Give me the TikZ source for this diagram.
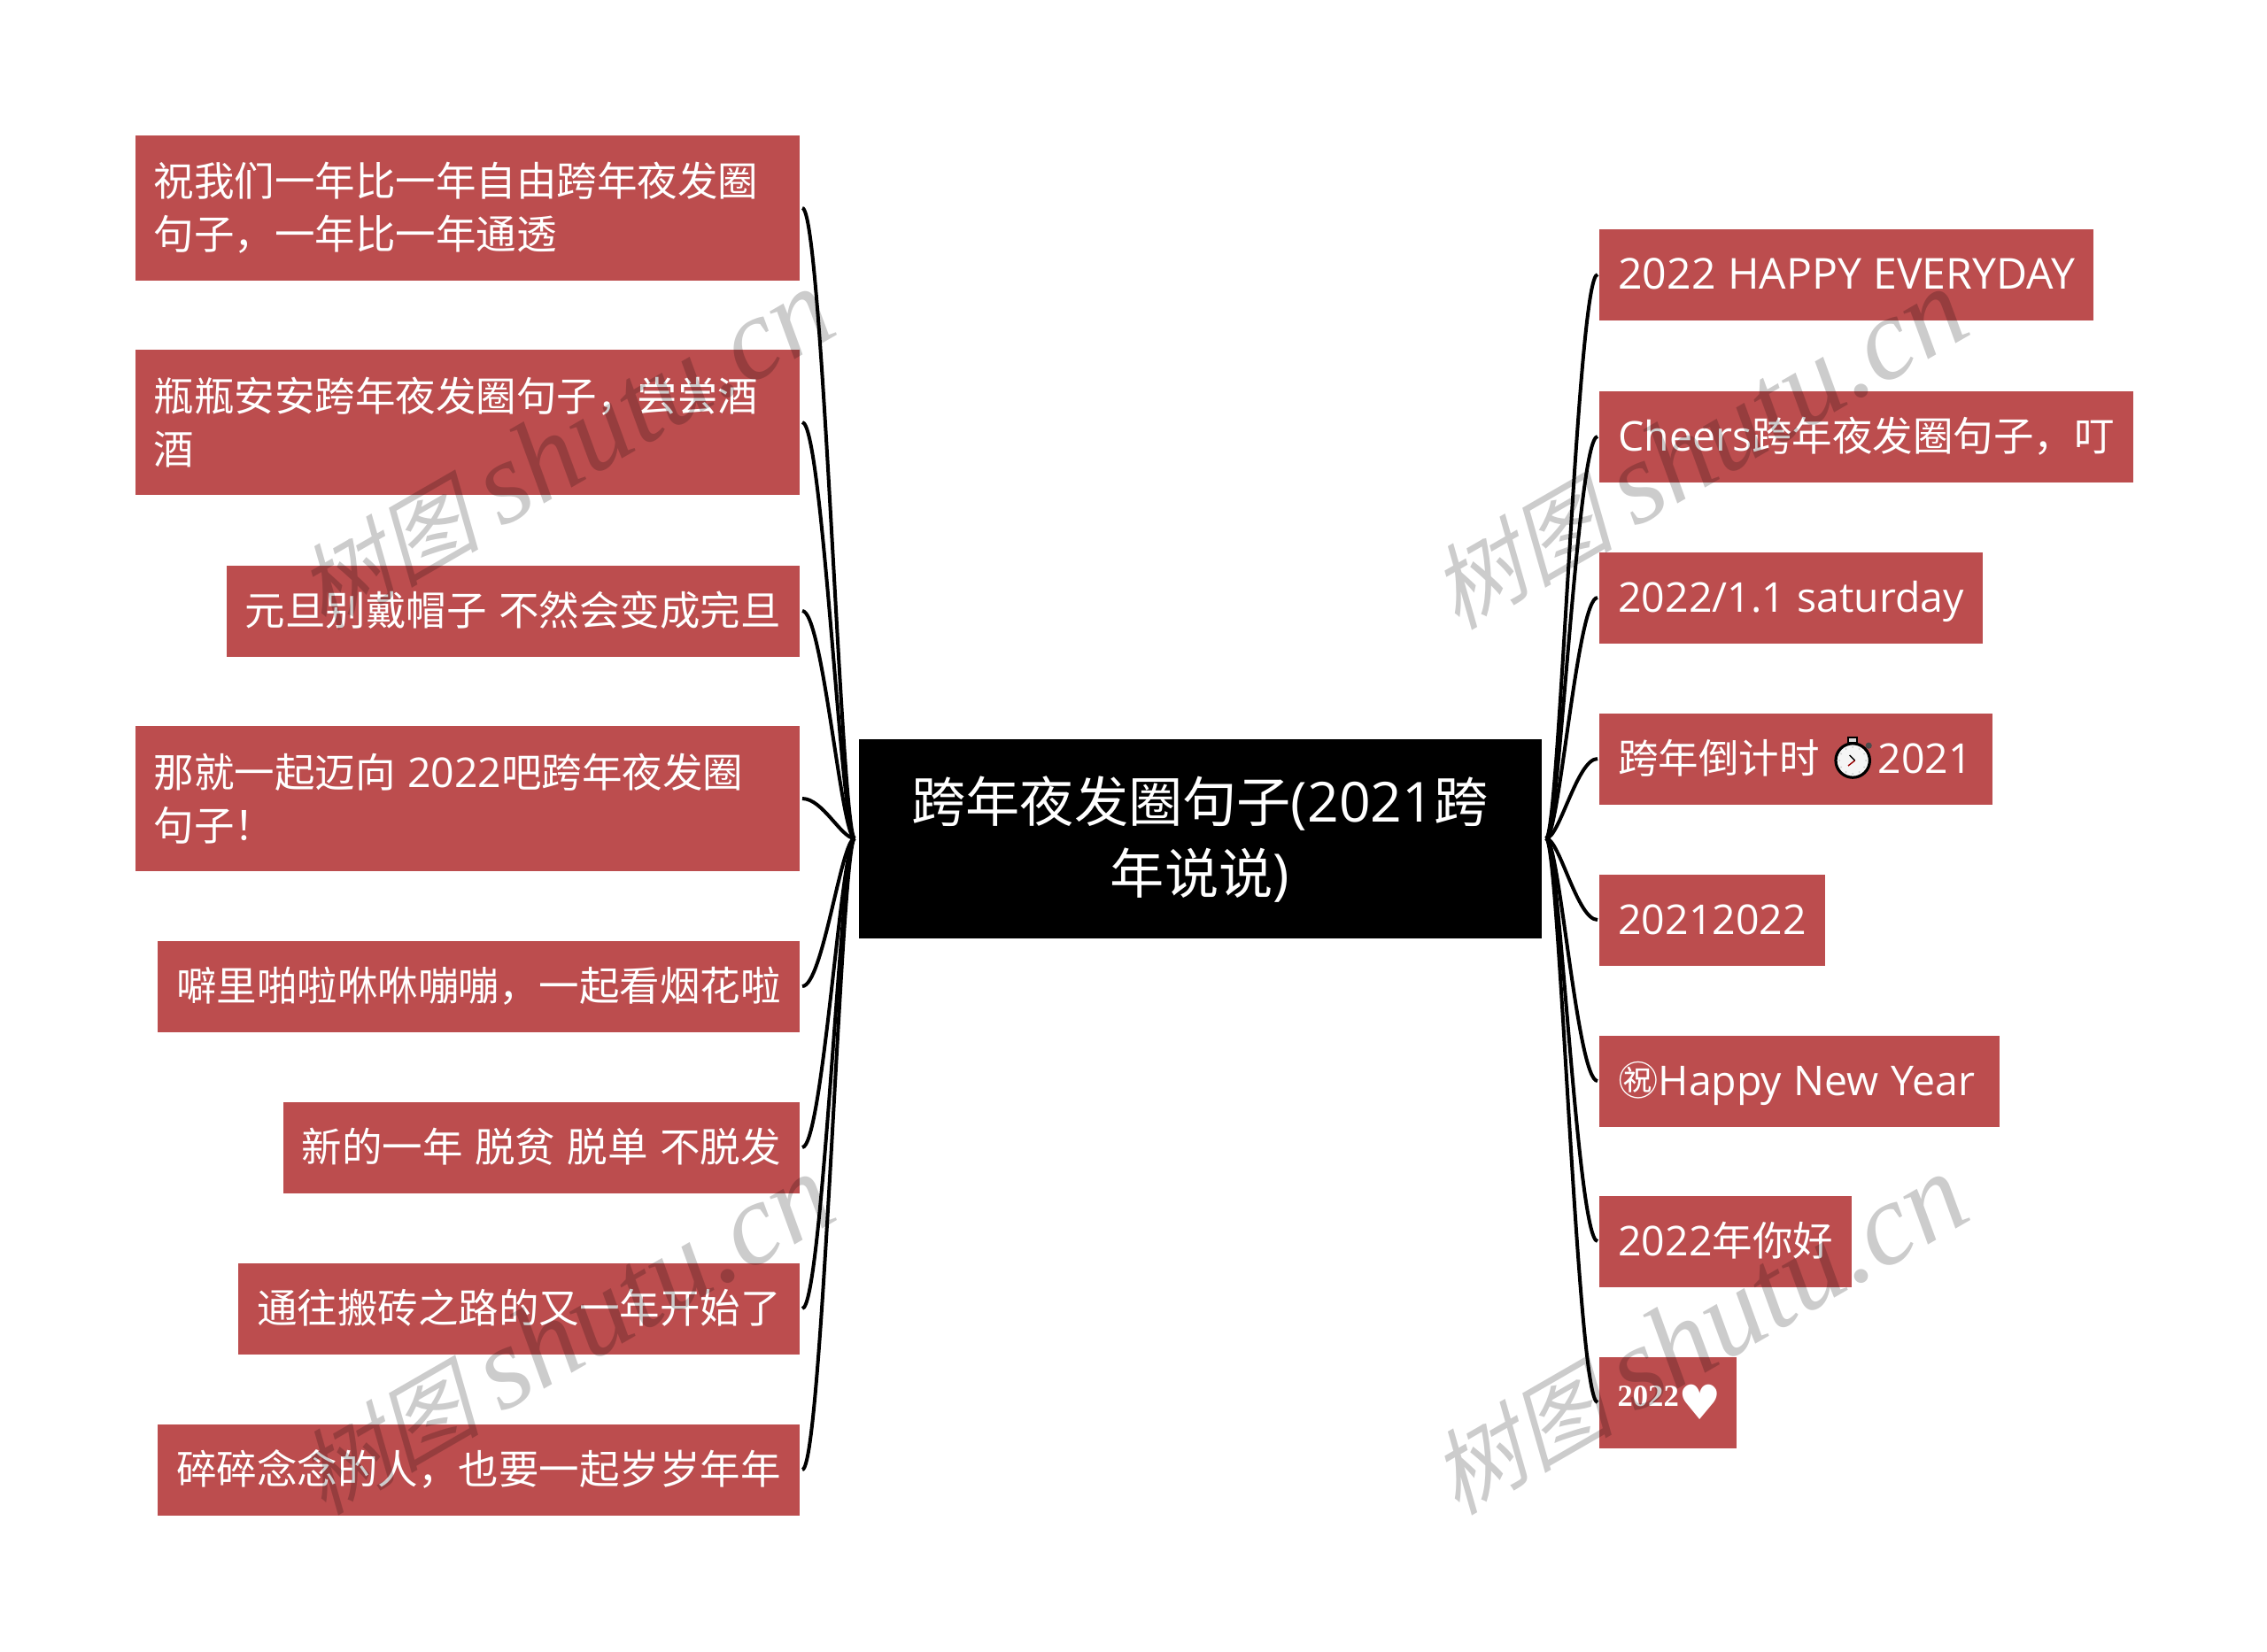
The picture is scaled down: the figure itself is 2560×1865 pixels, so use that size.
\documentclass[tikz,border=0pt]{standalone}
\usepackage{fontspec}
\setmainfont{Noto Sans CJK SC}
\newfontfamily\lat[Scale=1.02]{Open Sans}
\newfontfamily\heartfont{DejaVu Sans}
\newfontfamily\wmcjk[FakeSlant=.25]{Noto Sans CJK SC}
\newfontfamily\wmlatin{Liberation Serif}
\usetikzlibrary{calc}
\definecolor{leafred}{HTML}{BC4D4E}
\newcommand{\stopwatch}{\tikz[baseline=-7pt,x=1pt,y=1pt]{
 \fill[black!70] (9,8.4) circle (1.8);
 \fill[black!15,draw=black,line width=1pt] (-2.4,10.2) rectangle (2.4,12.8);
 \fill[black!4,draw=black,line width=1.6pt] (0,0) circle (9.6);
 \foreach \a in {0,30,...,330} \fill[black!20] (\a:7.5) circle (.5);
 \draw[black,line width=.7pt] (-1.8,3) -- (1.2,0);
 \draw[red!60!black,line width=.7pt] (1.2,0) -- (-2.6,-3);
}}
\tikzset{
 leaf/.style={fill=leafred,text=white,font=\fontsize{22.75}{30}\selectfont,execute at begin node={\spaceskip=6.75pt\relax},inner xsep=10.5pt,inner ysep=0pt,align=left},
 leafone/.style={leaf,minimum height=51.5pt,text height=18pt,text depth=2pt},
 leaftwo/.style={leaf,text width=354pt,minimum height=82pt,anchor=east},
 leafl/.style={leafone,anchor=east},
 leafr/.style={leafone,anchor=west},
 link/.style={black,line width=2pt},
 wmark/.style={text=black,opacity=.2,rotate=30}
}
\begin{document}
\begin{tikzpicture}[x=.5pt,y=-.5pt]
\useasboundingbox (0,0) rectangle (2560,1865);
\node (root) [fill=black,text=white,align=center,text width=360pt,minimum width=385.5pt,minimum height=112.5pt,inner sep=0pt,text height=20pt,text depth=39pt,font=\fontsize{30.6}{40.5}\selectfont] at (1355,947) {跨年夜发圈句子{\lat(2021}跨\\年说说{\lat)}};
\node (l1) [leaftwo] at (903,235) {祝我们一年比一年自由跨年夜发圈\\句子，一年比一年通透};
\node (l2) [leaftwo] at (903,477) {瓶瓶安安跨年夜发圈句子，尝尝酒\\酒};
\node (l3) [leafl] at (903,690) {元旦别戴帽子 不然会变成完旦};
\node (l4) [leaftwo] at (903,902) {那就一起迈向 {\lat 2022}吧跨年夜发圈\\句子！};
\node (l5) [leafl] at (903,1114) {噼里啪啦咻咻嘣嘣，一起看烟花啦};
\node (l6) [leafl] at (903,1296) {新的一年 脱贫 脱单 不脱发};
\node (l7) [leafl] at (903,1478) {通往搬砖之路的又一年开始了};
\node (l8) [leafl] at (903,1660) {碎碎念念的人，也要一起岁岁年年};
\node (r1) [leafr] at (1806,310) {\fontsize{23.6}{30}\selectfont\lat 2022 HAPPY EVERYDAY};
\node (r2) [leafr] at (1806,493) {{\lat Cheers}跨年夜发圈句子，叮};
\node (r3) [leafr] at (1806,675) {\lat 2022/1.1 saturday};
\node (r4) [leafr] at (1806,857) {跨年倒计时 \hspace{1.5pt}\stopwatch\hspace{3.5pt}{\lat 2021}\hspace*{1pt}};
\node (r5) [leafr] at (1806,1039) {\lat 20212022};
\node (r6) [leafr] at (1806,1221) {㊗{\lat Happy New Year}\hspace*{3.3pt}};
\node (r7) [leafr] at (1806,1402) {{\lat 2022}年你好};
\node (r8) [leafr,minimum width=77.5pt,inner xsep=0pt] at (1806,1584) {\hspace{1.5pt}\raisebox{6pt}{\fontsize{17.3}{17}\selectfont\wmlatin\bfseries 2022}\raisebox{-1.5pt}{\fontsize{27}{27}\selectfont\heartfont ♥}};
\foreach \n in {l1,l2,l3,l4,l5,l6,l7,l8}
 \draw[link] (root.west) ++(-4,0) .. controls +(-15,0) and +(23,0) .. ($(\n.east)+(3,0)$);
\foreach \n in {r1,r2,r3,r4,r5,r6,r7,r8}
 \draw[link] (root.east) ++(5,0) .. controls +(15,0) and +(-23,0) .. ($(\n.west)+(-2,0)$);
\foreach \m/\x/\y in {a/637/508,b/1917/508,c/637/1508,d/1917/1508}
 \node (wm\m) [wmark] at (\x,\y) {{\fontsize{52}{54}\selectfont\wmcjk 树图}\hspace{12pt}{\fontsize{66}{54}\selectfont\wmlatin\itshape shutu.cn}};
\end{tikzpicture}
\end{document}
